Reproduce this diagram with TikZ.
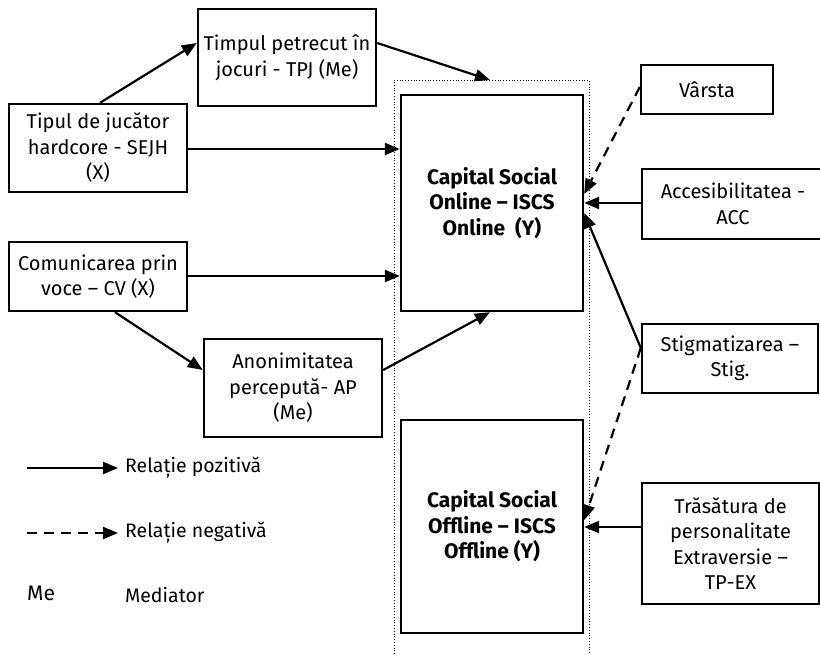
\documentclass[tikz,border=0pt]{standalone}
\usepackage{fontspec}
\setmainfont{Fira Sans}
\usetikzlibrary{arrows.meta}
\begin{document}
\begin{tikzpicture}[x=1pt,y=-1pt,
  box/.style={draw,line width=2.4pt,align=center,inner sep=0pt,font=\fontsize{20}{25.5}\selectfont},
  bbox/.style={box,font=\fontsize{21}{25.5}\selectfont\bfseries},
  arr/.style={line width=2.2pt,-{Triangle[length=15pt,width=12pt]}},
  darr/.style={arr,dash pattern=on 10pt off 7pt},
  lbl/.style={font=\fontsize{19.5}{22}\selectfont,anchor=west,inner sep=0pt}]
\useasboundingbox (0,0) rectangle (820,654);
\draw[dotted,line width=0.8pt] (394,654) -- (394,80) -- (589,80) -- (589,654);
\node[box,minimum width=178pt,minimum height=97pt] (tpj) at (287,57.5) {Timpul petrecut în\\jocuri - TPJ (Me)};
\node[box,minimum width=178pt,minimum height=88pt] (sejh) at (98,148) {Tipul de jucător\\hardcore - SEJH\\(X)};
\node[box,minimum width=178pt,minimum height=69pt] (cv) at (98,276.5) {Comunicarea prin\\voce – CV (X)};
\node[box,minimum width=178pt,minimum height=98pt] (ap) at (293,388) {Anonimitatea\\percepută- AP\\(Me)};
\node[bbox,minimum width=182pt,minimum height=216pt] (on) at (492,203) {Capital Social\\Online – ISCS\\Online~~(Y)};
\node[bbox,minimum width=182pt,minimum height=213pt] (off) at (492,526.5) {Capital Social\\Offline – ISCS\\Offline (Y)};
\node[box,minimum width=132pt,minimum height=49pt] (var) at (707,89.5) {Vârsta};
\node[box,minimum width=182pt,minimum height=70pt] (acc) at (733,204) {Accesibilitatea -\\ACC};
\node[box,minimum width=176pt,minimum height=69pt] (stig) at (730,358.5) {Stigmatizarea –\\Stig.};
\node[box,minimum width=177pt,minimum height=121pt] (tpex) at (730.5,543.5) {Trăsătura de\\personalitate\\Extraversie –\\TP-EX};
\coordinate (topin) at (490,80);
\draw[arr] (sejh.north -| 100,0) -- (tpj.west |- 0,43);
\draw[arr] (tpj.east |- 0,43) -- (topin);
\draw[arr] (sejh.east |- 0,149) -- (on.west |- 0,149);
\draw[arr] (cv.east |- 0,276) -- (on.west |- 0,276);
\draw[arr] (cv.south -| 115,0) -- (ap.west |- 0,370);
\draw[arr] (ap.east |- 0,370) -- (on.south -| 490,0);
\draw[darr] (var.west |- 0,87) -- (on.east |- 0,194);
\draw[arr] (acc.west |- 0,203) -- (on.east |- 0,203);
\draw[arr] (stig.west |- 0,348) -- (on.east |- 0,213);
\draw[darr] (stig.west |- 0,348) -- (off.east |- 0,520);
\draw[arr] (tpex.west |- 0,527) -- (off.east |- 0,527);
\coordinate (l1a) at (27,468); \coordinate (l1b) at (118,468);
\coordinate (l2a) at (27,533); \coordinate (l2b) at (118,533);
\draw[arr] (l1a) -- (l1b);
\draw[darr] (l2a) -- (l2b);
\node[lbl] (t1) at (125,468) {Relație pozitivă};
\node[lbl] (t2) at (125,533) {Relație negativă};
\node[lbl,font=\fontsize{21}{24}\selectfont] (me) at (27,593) {Me};
\node[lbl] (med) at (125,595) {Mediator};
\end{tikzpicture}
\end{document}
